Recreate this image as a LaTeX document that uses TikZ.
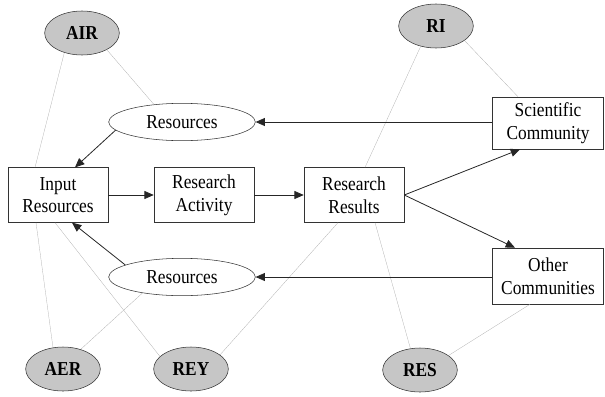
\documentclass[tikz,border=0pt]{standalone}
\usepackage{fontspec}
\setmainfont{Liberation Serif}[FakeStretch=0.88]
\usetikzlibrary{shapes.geometric, arrows.meta, positioning, calc}

\begin{document}
\begin{tikzpicture}[
		x=0.75pt, y=-0.75pt,
		font=\fontsize{14.8}{17}\selectfont,
		block/.style={draw=black!80, fill=white, minimum width=75pt, minimum height=41pt, align=center, inner sep=1pt},
		res/.style={draw=black!80, ellipse, fill=white, minimum width=110pt, minimum height=28pt, inner sep=0pt},
		actor/.style={draw=black!80, ellipse, fill=gray!45, minimum width=56pt, minimum height=33pt, inner sep=0pt, font=\fontsize{14.8}{17}\selectfont\bfseries},
		arrow/.style={-{Triangle[length=7pt,width=6pt]}, semithick, black!85},
		link/.style={gray!65, very thin}
		]
		\useasboundingbox (0,0) rectangle (605,396);
		
		% Actors
		\node[actor] (AIR) at (82,33) {AIR};
		\node[actor] (RI) at (436,26) {RI};
		\node[actor] (AER) at (63,369) {AER};
		\node[actor] (REY) at (191,369) {REY};
		\node[actor] (RES) at (420,370) {RES};
		
		% Process chain
		\node[block] (input) at (58,195) {Input\\Resources};
		\node[block] (activity) at (204,195) {Research\\Activity};
		\node[block] (results) at (354,195) {Research\\Results};
		
		% Communities
		\node[block, minimum width=83pt, minimum height=39pt] (sci) at (548,123) {Scientific\\Community};
		\node[block, minimum width=83pt, minimum height=42pt] (other) at (548,276) {Other\\Communities};
		
		% Resource flows
		\node[res] (resTop) at (182,122) {Resources};
		\node[res] (resBot) at (182,277) {Resources};
		
		% Links of the actors
		\draw[link] (AIR.228) -- ($(input.north)+(-23,0)$);
		\draw[link] (AIR.326) -- (resTop.148);
		\draw[link] (RI.233) -- ($(results.north)+(11,0)$);
		\draw[link] (RI.333) -- ($(sci.north)+(-30,0)$);
		\draw[link] (AER.115) -- ($(input.south)+(-22,0)$);
		\draw[link] (AER.48) -- (resBot.202);
		\draw[link] (REY.158) -- ($(input.south)+(-3,0)$);
		\draw[link] (REY.26) -- ($(results.south)+(-16,0)$);
		\draw[link] (RES.114) -- ($(results.south)+(21,0)$);
		\draw[link] (RES.27) -- ($(other.south)+(-18,0)$);
		
		% Arrows
		\draw[arrow] (input) -- (activity);
		\draw[arrow] (activity) -- (results);
		\draw[arrow] (results.east) -- ($(sci.south)+(-28,0)$);
		\draw[arrow] (results.east) -- ($(other.north)+(-33,0)$);
		\draw[arrow] (sci.west |- resTop.east) -- (resTop.east);
		\draw[arrow] (other.west |- resBot.east) -- (resBot.east);
		\draw[arrow] (resTop.187) -- ($(input.north)+(17,0)$);
		\draw[arrow] (resBot.168) -- ($(input.south)+(14,0)$);
		
	\end{tikzpicture}
\end{document}
